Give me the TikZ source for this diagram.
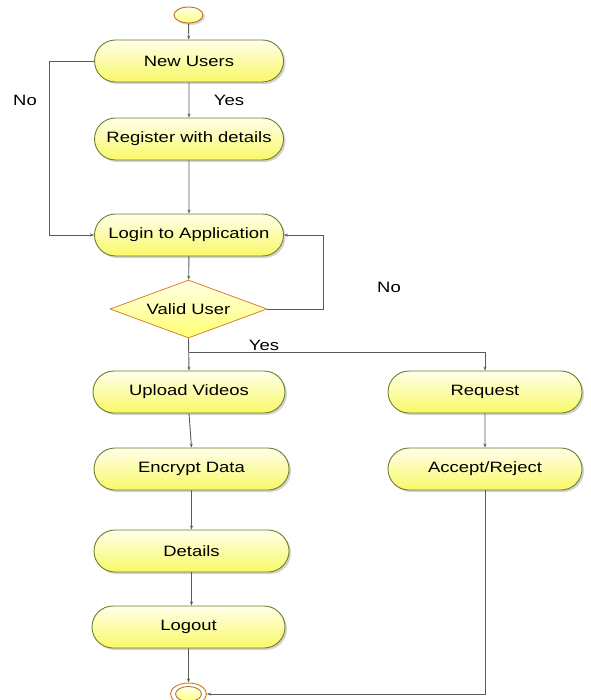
\documentclass[tikz,border=0pt]{standalone}
\usepackage{fontspec}
\setmainfont{Liberation Sans}[FakeStretch=1.23]
\usetikzlibrary{shapes.misc,shapes.geometric,shadows,arrows.meta}
\definecolor{edgegreen}{HTML}{6E7F2A}
\definecolor{orangeb}{HTML}{D9822B}
\definecolor{linegray}{HTML}{5A5A5A}
\tikzset{
  act/.style={rounded rectangle, draw=edgegreen, line width=0.9pt,
    top color=yellow!8!white, bottom color=yellow!55!white!95!olive,
    minimum width=192pt, minimum height=42pt, inner sep=0pt,
    font=\fontsize{15}{18}\selectfont,
    drop shadow={shadow xshift=2pt, shadow yshift=-2pt, opacity=0.35}},
  decis/.style={diamond, aspect=2.7, draw=orangeb, line width=0.8pt,
    top color=yellow!10!white, bottom color=yellow!55!white,
    minimum width=157pt, minimum height=58pt, inner sep=0pt,
    font=\fontsize{15}{18}\selectfont},
  conn/.style={draw=linegray, line width=0.9pt, -{Stealth[length=4pt,width=3pt]}},
  lbl/.style={font=\fontsize{15}{18}\selectfont, inner sep=0pt},
}
\begin{document}
\begin{tikzpicture}[x=1pt,y=-1pt]
\useasboundingbox (0,0) rectangle (590,700);
\clip (0,0) rectangle (590,700);
\node[ellipse, draw=orangeb!85!black, line width=0.9pt, top color=yellow!10!white, bottom color=yellow!50!white,
  minimum width=29pt, minimum height=16pt, inner sep=0pt,
  drop shadow={shadow xshift=2pt, shadow yshift=-2pt, opacity=0.3}] (start) at (188.5,15) {};
\node[act, minimum width=189pt] (new) at (189,61) {New Users};
\node[act, minimum width=189pt] (reg) at (189,139) {Register with details};
\node[act, minimum width=189pt] (login) at (189,235) {Login to Application};
\node[decis] (valid) at (188.5,309) {Valid User};
\node[act] (upload) at (189,392) {Upload Videos};
\node[act, minimum width=195pt] (encrypt) at (191.5,469) {Encrypt Data};
\node[act, minimum width=195pt] (details) at (191.5,551) {Details};
\node[act, minimum width=193pt] (logout) at (188.5,627) {Logout};
\node[act, minimum width=194pt] (request) at (485,392) {Request};
\node[act, minimum width=194pt] (accept) at (485,469) {Accept/Reject};
\node[ellipse, draw=orangeb, line width=1pt, fill=white, minimum width=36pt, minimum height=22pt, inner sep=0pt] (end) at (188.5,694) {};
\node[ellipse, draw=orangeb!80!black, line width=0.8pt, top color=yellow!10!white, bottom color=yellow!50!white,
  minimum width=26pt, minimum height=15pt, inner sep=0pt] (endin) at (188.5,694) {};
\coordinate (split) at (188.5,352);

\draw[conn] (start) -- (new);
\draw[conn] (new) -- (reg);
\draw[conn] (reg) -- (login);
\draw[conn] (new.west) -- ++(-45,0) |- (login.west);
\draw[conn] (login) -- (valid);
\draw[conn] (valid.east) -- ++(56,0) |- (login.east);
\draw[conn] (valid.south) -- (upload.north);
\draw[conn] (split) -| (request.north);
\draw[conn] (upload.south) -- (encrypt.north);
\draw[conn] (encrypt) -- (details);
\draw[conn] (details.south) -- (details.south |- logout.north);
\draw[conn] (logout) -- (end);
\draw[conn] (request) -- (accept);
\draw[conn] (accept.south) |- (end.east);

\node[lbl] (no1) at (25,100) {No};
\node[lbl] (yes1) at (229,100) {Yes};
\node[lbl] (no2) at (389,287) {No};
\node[lbl] (yes2) at (264,345) {Yes};
\end{tikzpicture}
\end{document}
